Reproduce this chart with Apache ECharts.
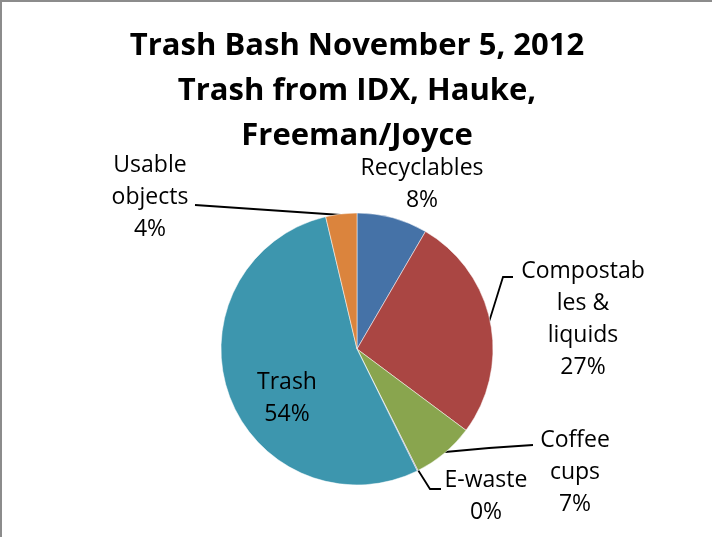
<!DOCTYPE html>
<html>
<head>
<meta charset="utf-8">
<script src="https://cdn.jsdelivr.net/npm/echarts@6/dist/echarts.min.js"></script>
<style>html,body{margin:0;padding:0;background:#fff;}#c{width:712px;height:537px;}</style>
</head>
<body>
<div id="c"></div>
<script>
const categories = ['Recyclables', 'Compostables & liquids', 'Coffee cups', 'E-waste', 'Trash', 'Usable objects'];
const labelNames = ['Recyclables', 'Compostab\nles &\nliquids', 'Coffee\ncups', 'E-waste', 'Trash', 'Usable\nobjects'];
const values = [8.4, 26.8, 7.4, 0.1, 53.6, 3.7];
const colors = ['#4572A7', '#AA4643', '#89A54E', '#80699B', '#3D96AE', '#DB843D'];
const titleText = 'Trash Bash November 5, 2012\nTrash from IDX, Hauke,\nFreeman/Joyce';

// label placement (style)
const labelPos = [
  {x: 422, y: 184, line: null},
  {x: 583, y: 319, line: [[489, 322], [503, 277], [513, 277]]},
  {x: 575, y: 472, line: [[445, 452], [489, 448], [533, 445]]},
  {x: 486, y: 496, line: [[418, 470], [430, 489], [441, 489]]},
  {x: 287, y: 398, line: null},
  {x: 150, y: 197, line: [[341, 215], [268, 210], [195, 205]]}
];

const chart = echarts.init(document.getElementById('c'));
const fontFam = '"Open Sans", Lato, sans-serif';
chart.setOption({
  backgroundColor: '#fff',
  animation: false,
  title: {
    text: titleText,
    left: 352, textAlign: 'center', top: 19,
    textStyle: {fontFamily: fontFam, fontWeight: 'bold', fontSize: 31, lineHeight: 45, color: '#000'}
  },
  graphic: [{
    type: 'rect', shape: {x: 1, y: 1, width: 900, height: 900},
    style: {fill: null, stroke: '#8c8c8c', lineWidth: 2}, silent: true
  }],
  series: [{
    type: 'pie',
    center: [357, 349],
    radius: 136,
    startAngle: 90,
    clockwise: true,
    avoidLabelOverlap: false,
    itemStyle: {borderColor: '#fff', borderWidth: 0.5},
    label: {
      show: true,
      fontFamily: fontFam, fontSize: 23, lineHeight: 32, color: '#000', align: 'center',
      formatter: p => labelNames[p.dataIndex] + '\n' + Math.round(p.percent) + '%'
    },
    labelLine: {show: true, lineStyle: {color: '#000', width: 1.8}, smooth: false},
    labelLayout: function (params) {
      const lp = labelPos[params.dataIndex];
      const r = {x: lp.x, y: lp.y, align: 'center', verticalAlign: 'middle'};
      if (lp.line) r.labelLinePoints = lp.line;
      return r;
    },
    data: categories.map((c, i) => ({
      name: c, value: values[i],
      itemStyle: {color: colors[i]},
      labelLine: {show: !!labelPos[i].line}
    }))
  }]
});
</script>
</body>
</html>
